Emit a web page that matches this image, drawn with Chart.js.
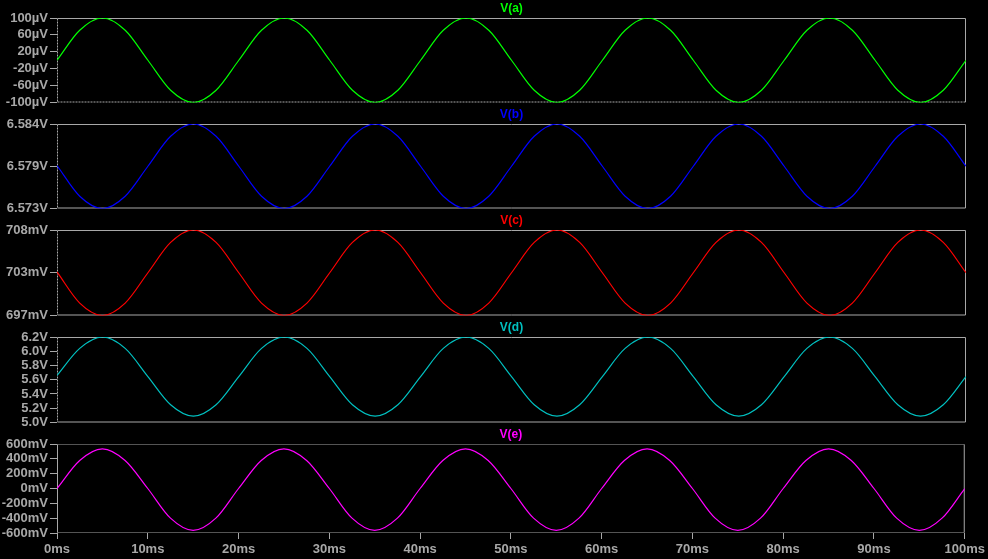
<!DOCTYPE html>
<html>
<head>
<meta charset="utf-8">
<title>V(a) .. V(e)</title>
<script src="https://cdn.jsdelivr.net/npm/chart.js@4.4.0/dist/chart.umd.min.js"></script>
<style>
  html, body { margin: 0; padding: 0; background: #000; }
  #wrap { position: relative; width: 988px; height: 559px; overflow: hidden; background: #000; }
  #wrap canvas { position: absolute; left: 0; }
</style>
</head>
<body>
<div id="wrap">
  <canvas id="pa"></canvas>
  <canvas id="pb"></canvas>
  <canvas id="pc"></canvas>
  <canvas id="pd"></canvas>
  <canvas id="pe"></canvas>
</div>
<script>
// time axis (ms)
const times = [0, 2.5, 5, 7.5, 10, 12.5, 15, 17.5, 20, 22.5, 25, 27.5, 30, 32.5, 35, 37.5, 40, 42.5, 45, 47.5,
  50, 52.5, 55, 57.5, 60, 62.5, 65, 67.5, 70, 72.5, 75, 77.5, 80, 82.5, 85, 87.5, 90, 92.5, 95, 97.5, 100];

// V(a) in uV
const va = [0, 71, 100, 71, 0, -71, -100, -71,
  0, 71, 100, 71, 0, -71, -100, -71,
  0, 71, 100, 71, 0, -71, -100, -71,
  0, 71, 100, 71, 0, -71, -100, -71,
  0, 71, 100, 71, 0, -71, -100, -71, 0];

// V(b) in V
const vb = [6.5786, 6.5746, 6.5730, 6.5746, 6.5785, 6.5824, 6.5840, 6.5824,
  6.5785, 6.5746, 6.5730, 6.5746, 6.5785, 6.5824, 6.5840, 6.5824,
  6.5785, 6.5746, 6.5730, 6.5746, 6.5785, 6.5824, 6.5840, 6.5824,
  6.5785, 6.5746, 6.5730, 6.5746, 6.5785, 6.5824, 6.5840, 6.5824,
  6.5785, 6.5746, 6.5730, 6.5746, 6.5785, 6.5824, 6.5840, 6.5824, 6.5785];

// V(c) in mV
const vc = [702.6, 698.6, 697.0, 698.6, 702.5, 706.4, 708.0, 706.4,
  702.5, 698.6, 697.0, 698.6, 702.5, 706.4, 708.0, 706.4,
  702.5, 698.6, 697.0, 698.6, 702.5, 706.4, 708.0, 706.4,
  702.5, 698.6, 697.0, 698.6, 702.5, 706.4, 708.0, 706.4,
  702.5, 698.6, 697.0, 698.6, 702.5, 706.4, 708.0, 706.4, 702.5];

// V(d) in V
const vd = [5.66, 6.04, 6.20, 6.04, 5.645, 5.25, 5.09, 5.25,
  5.645, 6.04, 6.20, 6.04, 5.645, 5.25, 5.09, 5.25,
  5.645, 6.04, 6.20, 6.04, 5.645, 5.25, 5.09, 5.25,
  5.645, 6.04, 6.20, 6.04, 5.645, 5.25, 5.09, 5.25,
  5.645, 6.04, 6.20, 6.04, 5.645, 5.25, 5.09, 5.25, 5.645];

// V(e) in mV
const ve = [0, 378, 535, 378, 0, -400, -565, -400,
  0, 378, 535, 378, 0, -400, -565, -400,
  0, 378, 535, 378, 0, -400, -565, -400,
  0, 378, 535, 378, 0, -400, -565, -400,
  0, 378, 535, 378, 0, -400, -565, -400, 0];

// y tick positions and their labels
const aTicks = [-100, -60, -20, 20, 60, 100];
const aLabels = ['-100\u00b5V', '-60\u00b5V', '-20\u00b5V', '20\u00b5V', '60\u00b5V', '100\u00b5V'];
const bTicks = [6.573, 6.5785, 6.584];
const bLabels = ['6.573V', '6.579V', '6.584V'];
const cTicks = [697, 702.5, 708];
const cLabels = ['697mV', '703mV', '708mV'];
const dTicks = [5.0, 5.2, 5.4, 5.6, 5.8, 6.0, 6.2];
const dLabels = ['5.0V', '5.2V', '5.4V', '5.6V', '5.8V', '6.0V', '6.2V'];
const eTicks = [-600, -400, -200, 0, 200, 400, 600];
const eLabels = ['-600mV', '-400mV', '-200mV', '0mV', '200mV', '400mV', '600mV'];

const GRAY = '#a8a8a8';
const FONT = '"Liberation Sans", Arial, sans-serif';

// draws pane frame and the trace name above it
const paneFrame = {
  id: 'paneFrame',
  beforeDatasetsDraw(chart, args, opts) {
    const { ctx, chartArea } = chart;
    const l = chartArea.left + 0.5, r = chartArea.right - 0.5;
    const t = chartArea.top + 0.5, b = chartArea.bottom - 0.5;
    const seg = (x1, y1, x2, y2, dash) => {
      ctx.setLineDash(dash || []);
      ctx.beginPath();
      ctx.moveTo(x1, y1);
      ctx.lineTo(x2, y2);
      ctx.stroke();
    };
    ctx.save();
    ctx.strokeStyle = GRAY;
    ctx.lineWidth = 1;
    seg(l, t, r, t, opts.topDash);
    seg(l, b, r, b, opts.bottomDash);
    seg(l, t, l, b, opts.leftDash);
    seg(r, t, r, b, []);
    ctx.restore();
  },
  afterDraw(chart, args, opts) {
    const { ctx, chartArea } = chart;
    ctx.save();
    ctx.fillStyle = opts.color;
    ctx.font = 'bold 12px ' + FONT;
    ctx.textAlign = 'center';
    ctx.textBaseline = 'middle';
    ctx.fillText(opts.title, (chartArea.left + chartArea.right) / 2, chartArea.top - 9);
    ctx.restore();
  }
};

const panes = [
  { id: 'pa', name: 'V(a)', color: '#00ff00', values: va, ticks: aTicks, labels: aLabels,
    top: 18, bottom: 103, topDash: [], bottomDash: [2, 1], leftDash: [2, 1] },
  { id: 'pb', name: 'V(b)', color: '#0000ff', values: vb, ticks: bTicks, labels: bLabels,
    top: 124, bottom: 209, topDash: [], bottomDash: [], leftDash: [2, 1] },
  { id: 'pc', name: 'V(c)', color: '#ff0000', values: vc, ticks: cTicks, labels: cLabels,
    top: 230, bottom: 316, topDash: [], bottomDash: [], leftDash: [2, 1] },
  { id: 'pd', name: 'V(d)', color: '#00c0c0', values: vd, ticks: dTicks, labels: dLabels,
    top: 337, bottom: 423, topDash: [], bottomDash: [], leftDash: [2, 1] },
  { id: 'pe', name: 'V(e)', color: '#ff00ff', values: ve, ticks: eTicks, labels: eLabels,
    top: 444, bottom: 533, topDash: [1, 1], bottomDash: [1, 1], leftDash: [] }
];

panes.forEach((p, idx) => {
  const last = idx === panes.length - 1;
  const padTop = 18;
  const padBottom = last ? 26 : 8;
  const canvas = document.getElementById(p.id);
  canvas.width = 988;
  canvas.height = p.bottom - p.top + padTop + padBottom;
  canvas.style.top = (p.top - padTop) + 'px';

  new Chart(canvas, {
    type: 'line',
    data: {
      datasets: [{
        label: p.name,
        data: times.map((t, i) => ({ x: t, y: p.values[i] })),
        borderColor: p.color,
        borderWidth: 1.2,
        pointRadius: 0,
        cubicInterpolationMode: 'monotone',
        fill: false
      }]
    },
    options: {
      responsive: false,
      animation: false,
      layout: { padding: { top: padTop, right: 22, bottom: last ? 0 : padBottom, left: 0 } },
      plugins: {
        legend: { display: false },
        tooltip: { enabled: false },
        paneFrame: { title: p.name, color: p.color, topDash: p.topDash, bottomDash: p.bottomDash, leftDash: p.leftDash }
      },
      scales: {
        x: {
          type: 'linear',
          min: 0,
          max: 100,
          display: last,
          afterFit: (s) => { s.height = last ? 26 : 0; },
          border: { display: false },
          grid: { drawOnChartArea: false, tickLength: 6, color: GRAY },
          ticks: {
            stepSize: 10,
            autoSkip: false,
            maxRotation: 0,
            padding: 3,
            color: GRAY,
            font: { family: FONT, size: 13, weight: 'bold' },
            callback: (v) => v + 'ms'
          }
        },
        y: {
          min: p.ticks[0],
          max: p.ticks[p.ticks.length - 1],
          afterFit: (s) => { s.width = 57; },
          afterBuildTicks: (s) => { s.ticks = p.ticks.map(v => ({ value: v })); },
          border: { display: false },
          grid: { drawOnChartArea: false, tickLength: 7, color: GRAY },
          ticks: {
            autoSkip: false,
            padding: 2,
            color: GRAY,
            font: { family: FONT, size: 13, weight: 'bold', lineHeight: 1 },
            callback: (v, i) => p.labels[i]
          }
        }
      }
    },
    plugins: [paneFrame]
  });
});
</script>
</body>
</html>
